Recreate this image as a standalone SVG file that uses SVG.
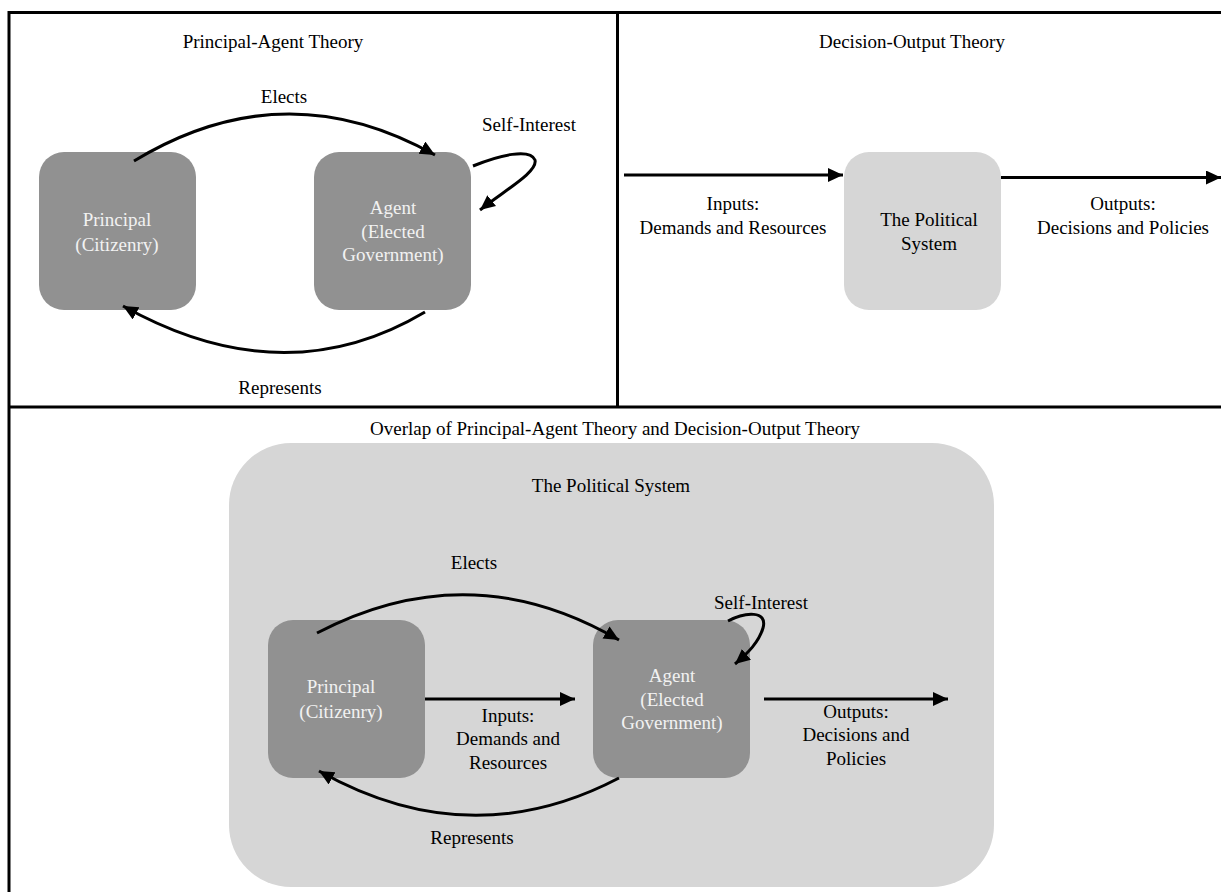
<svg xmlns="http://www.w3.org/2000/svg" width="1221" height="892" viewBox="0 0 1221 892">
<style>
text{font-family:"Liberation Serif","Times New Roman",serif;font-size:19px;text-anchor:middle;fill:#000}
.lt{fill:#f2f2f2}
.dark{fill:#919191}
.light{fill:#d6d6d6}
.frame{stroke:#000;stroke-width:3;fill:none}
.conn{stroke:#000;stroke-width:3;fill:none;marker-end:url(#ah)}
</style>
<defs>
<marker id="ah" markerUnits="userSpaceOnUse" markerWidth="17" markerHeight="16" refX="15" refY="7" orient="auto">
<path d="M0,0 L15,7 L0,14 z" fill="#000"/>
</marker>
</defs>
<rect width="1221" height="892" fill="#fff"/>
<g id="frame">
<line class="frame" x1="9" y1="12.5" x2="1221" y2="12.5"/>
<line class="frame" x1="9" y1="11" x2="9" y2="892"/>
<line class="frame" x1="617.5" y1="12" x2="617.5" y2="407"/>
<line class="frame" x1="9" y1="407" x2="1221" y2="407"/>
</g>
<g id="titles">
<text x="273" y="48">Principal-Agent Theory</text>
<text x="912" y="48">Decision-Output Theory</text>
<text x="615" y="435">Overlap of Principal-Agent Theory and Decision-Output Theory</text>
</g>
<g id="system-big">
<rect class="light" x="229" y="443" width="765" height="444" rx="62" ry="62"/>
<text x="611" y="492">The Political System</text>
</g>
<g id="pa-principal">
<rect class="dark" x="39" y="152" width="157" height="158" rx="25"/>
<text class="lt" x="117" y="226">Principal</text>
<text class="lt" x="117" y="251">(Citizenry)</text>
</g>
<g id="pa-agent">
<rect class="dark" x="314" y="152" width="157" height="158" rx="25"/>
<text class="lt" x="393" y="214">Agent</text>
<text class="lt" x="393" y="238">(Elected</text>
<text class="lt" x="393" y="261">Government)</text>
</g>
<g id="do-system">
<rect class="light" x="844" y="152" width="157" height="158" rx="25"/>
<text x="929" y="226">The Political</text>
<text x="929" y="250">System</text>
</g>
<g id="ov-principal">
<rect class="dark" x="268" y="620" width="157" height="158" rx="25"/>
<text class="lt" x="341" y="693">Principal</text>
<text class="lt" x="341" y="718">(Citizenry)</text>
</g>
<g id="ov-agent">
<rect class="dark" x="593" y="620" width="157" height="158" rx="25"/>
<text class="lt" x="672" y="682">Agent</text>
<text class="lt" x="672" y="706">(Elected</text>
<text class="lt" x="672" y="729">Government)</text>
</g>
<g id="connectors">
<path class="conn" d="M134,161 Q284,70 435,155"/>
<path class="conn" d="M425,312 Q284,396 123,306"/>
<path class="conn" d="M473,166 C500,155 530,148 535,160 C538,172 505,190 480,210"/>
<path class="conn" d="M624,175 L843,175"/>
<path class="conn" d="M1001,177.5 L1221,177.5"/>
<path class="conn" d="M317,633 Q470,553 619,640"/>
<path class="conn" d="M619,778 Q470,856 319,771"/>
<path class="conn" d="M728,621 C745,612 768,610 763,628 C759,642 748,653 735,664"/>
<path class="conn" d="M425,699 L575,699"/>
<path class="conn" d="M764,699 L948,699"/>
</g>
<g id="labels">
<text x="284" y="103">Elects</text>
<text x="529" y="131">Self-Interest</text>
<text x="280" y="394">Represents</text>
<text x="733" y="210">Inputs:</text>
<text x="733" y="234">Demands and Resources</text>
<text x="1123" y="210">Outputs:</text>
<text x="1123" y="234">Decisions and Policies</text>
<text x="474" y="569">Elects</text>
<text x="761" y="609">Self-Interest</text>
<text x="472" y="844">Represents</text>
<text x="508" y="722">Inputs:</text>
<text x="508" y="745">Demands and</text>
<text x="508" y="769">Resources</text>
<text x="856" y="718">Outputs:</text>
<text x="856" y="741">Decisions and</text>
<text x="856" y="765">Policies</text>
</g>
</svg>
